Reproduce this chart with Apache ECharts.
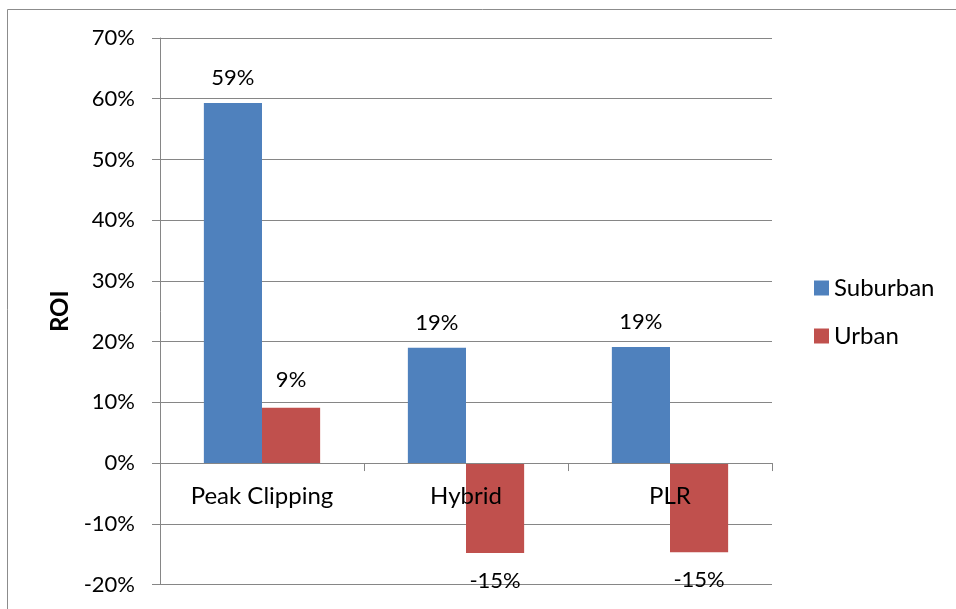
<!DOCTYPE html>
<html>
<head>
<meta charset="utf-8">
<script src="https://cdn.jsdelivr.net/npm/echarts@6/dist/echarts.min.js"></script>
<style>
html,body{margin:0;padding:0;background:#fff;}
#c{width:956px;height:609px;}
</style>
</head>
<body>
<div id="c"></div>
<script>
const categories = ['Peak Clipping', 'Hybrid', 'PLR'];
const suburban = [59.3, 19.0, 19.1];
const urban = [9.1, -14.8, -14.7];
const yTicks = { min: -20, max: 70, interval: 10 };

const FONT = 'Lato';
const FS = 22;
const FS_TEXT = 24;

function labelFor(v) {
  return {
    value: v,
    label: { position: v < 0 ? 'bottom' : 'top' }
  };
}

const chart = echarts.init(document.getElementById('c'), null, { renderer: 'canvas' });
chart.setOption({
  animation: false,
  backgroundColor: '#fff',
  textStyle: { fontFamily: FONT },
  graphic: [{
    type: 'rect',
    shape: { x: 7.5, y: 9.5, width: 1000, height: 700 },
    style: { fill: 'none', stroke: '#8c8c8c', lineWidth: 1 },
    silent: true
  }],
  grid: { left: 160, top: 38, right: 184, bottom: 24.5, containLabel: false, outerBoundsMode: 'none' },
  legend: {
    orient: 'vertical',
    left: 809,
    top: 270,
    itemWidth: 15,
    itemHeight: 15,
    itemGap: 22,
    icon: 'rect',
    textStyle: { fontFamily: FONT, fontSize: FS_TEXT, color: '#000', lineHeight: 26 },
    data: ['Suburban', 'Urban']
  },
  xAxis: {
    type: 'category',
    data: categories,
    z: 5,
    axisLine: { onZero: true, lineStyle: { color: '#868686', width: 1 } },
    axisTick: { show: true, length: 8, lineStyle: { color: '#868686' } },
    axisLabel: { color: '#000', fontFamily: FONT, fontSize: FS_TEXT, margin: -100 },
    splitLine: { show: false }
  },
  yAxis: {
    type: 'value',
    min: yTicks.min,
    max: yTicks.max,
    interval: yTicks.interval,
    name: 'ROI',
    nameLocation: 'middle',
    nameGap: 88,
    nameRotate: 90,
    nameTextStyle: { color: '#000', fontFamily: FONT, fontSize: 24, fontWeight: 'bold' },
    axisLine: { show: true, lineStyle: { color: '#868686', width: 1 } },
    axisTick: { show: true, length: 8, lineStyle: { color: '#868686' } },
    axisLabel: { color: '#000', fontFamily: FONT, fontSize: FS, margin: 25, formatter: '{value}%' },
    splitLine: { show: true, lineStyle: { color: '#868686', width: 1 } }
  },
  series: [
    {
      name: 'Suburban',
      type: 'bar',
      data: suburban.map(labelFor),
      barGap: '0%',
      barCategoryGap: '43%',
      itemStyle: { color: '#4F81BD' },
      label: {
        show: true, distance: 14, color: '#000', fontFamily: FONT, fontSize: FS,
        formatter: p => Math.round(p.value) + '%'
      }
    },
    {
      name: 'Urban',
      type: 'bar',
      data: urban.map(labelFor),
      barGap: '0%',
      barCategoryGap: '43%',
      itemStyle: { color: '#C0504D' },
      label: {
        show: true, distance: 17, color: '#000', fontFamily: FONT, fontSize: FS,
        formatter: p => Math.round(p.value) + '%'
      }
    }
  ]
});
</script>
</body>
</html>
